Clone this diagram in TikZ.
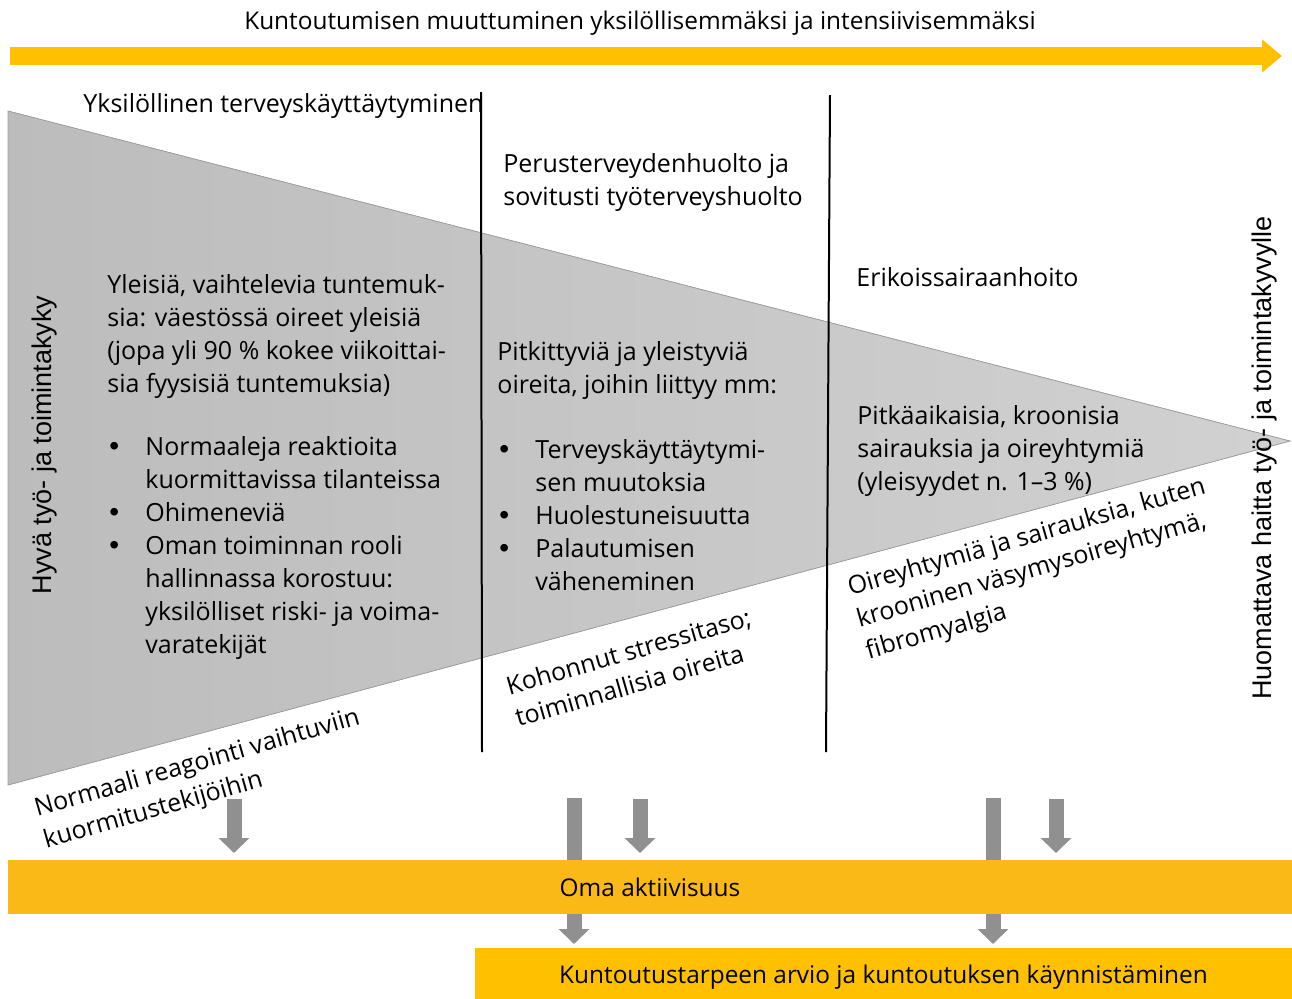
\documentclass[tikz,border=0pt]{standalone}
\usepackage{fontspec}
\setmainfont{Open Sans}
\newfontfamily\sidefont{Liberation Sans}
\usetikzlibrary{calc,arrows.meta}

\definecolor{baryellow}{HTML}{FFC000}
\definecolor{boxorange}{HTML}{FBB917}
\definecolor{conegray}{HTML}{C6C6C6}
\definecolor{coneedge}{HTML}{A0A0A0}
\definecolor{downgray}{HTML}{909090}

% bullet line and its continuation
\newcommand{\bitem}[1]{\makebox[19pt][l]{\hspace{1pt}{\sidefont\fontsize{14}{14}\selectfont\textbullet}}#1}
\newcommand{\bcont}{\hspace*{19pt}}

\begin{document}
\begin{tikzpicture}[x=0.5pt,y=-0.5pt,>=Latex,
	txt/.style={inner sep=0pt,align=left,font=\fontsize{12.5}{16.5}\selectfont},
	slant/.style={txt,rotate=16},
	side/.style={inner sep=0pt,rotate=90,font=\sidefont\fontsize{13.5}{15}\selectfont},
	downarrow/.style={draw=downgray,line width=7.5pt,-{Triangle[width=15pt,length=7.5pt]}},
	band/.style={inner sep=0pt,font=\fontsize{12.2}{14}\selectfont}]

	\useasboundingbox (0,0) rectangle (1292,998);

	% the arrow on the top
	\coordinate (T1) at (10,56);
	\coordinate (T2) at (1282,56);
	\draw[baryellow,line width=9pt,-{Triangle[width=16pt,length=10pt]}] (T1) -- (T2);
	\node[band] (title) at (640,23) {Kuntoutumisen muuttuminen yksilöllisemmäksi ja intensiivisemmäksi};

	% define the corners of the cone
	\coordinate (A) at (8,111);
	\coordinate (B) at (8,785);
	\coordinate (C) at (1290,441);
	\fill[left color=conegray!95!black,right color=conegray!80!white] (A) -- (C) -- (B) -- cycle;
	\draw[coneedge] (A) -- (C) -- (B) -- cycle;

	% the two dividing lines
	\coordinate (D) at (481,92);
	\coordinate (E) at (482,752);
	\coordinate (F) at (830,95);
	\coordinate (G) at (826,752);
	\draw[line width=1pt] (D)--(E) (F)--(G);

	% headers of the three phases
	\node[txt,anchor=base west] (head1) at (83,112) {Yksilöllinen terveyskäyttäytyminen};
	\node[txt,anchor=north west] (head2) at (503,153) {Perusterveydenhuolto ja\\ sovitusti työterveyshuolto};
	\node[txt,anchor=base west] (head3) at (856,286) {Erikoissairaanhoito};

	% the two ends
	\node[side] (good) at (45,445) {Hyvä työ- ja toimintakyky};
	\node[side] (bad) at (1265,458) {Huomattava haitta työ- ja toimintakyvylle};

	% texts inside the cone
	\node[txt,anchor=north west] (text1) at (107,274) {
		Yleisiä, vaihtelevia tuntemuk-\\
		sia: väestössä oireet yleisiä\\
		(jopa yli 90 \% kokee viikoittai-\\
		sia fyysisiä tuntemuksia)\\[15pt]
		\bitem{Normaaleja reaktioita}\\
		\bcont kuormittavissa tilanteissa\\
		\bitem{Ohimeneviä}\\
		\bitem{Oman toiminnan rooli}\\
		\bcont hallinnassa korostuu:\\
		\bcont yksilölliset riski- ja voima-\\
		\bcont varatekijät
	};
	\node[txt,anchor=north west] (text2) at (497,341) {
		Pitkittyviä ja yleistyviä\\
		oireita, joihin liittyy mm:\\[16pt]
		\bitem{Terveyskäyttäytymi-}\\
		\bcont sen muutoksia\\
		\bitem{Huolestuneisuutta}\\
		\bitem{Palautumisen}\\
		\bcont väheneminen
	};
	\node[txt,anchor=north west] (text3) at (857,405) {
		Pitkäaikaisia, kroonisia\\
		sairauksia ja oireyhtymiä\\
		(yleisyydet n. 1–3 \%)
	};

	% texts below the cone
	\node[slant] (low1) at (202,780) {Normaali reagointi vaihtuviin\\ kuormitustekijöihin};
	\node[slant] (low2) at (633,667) {Kohonnut stressitaso;\\ toiminnallisia oireita};
	\node[slant] (low3) at (1036,570) {Oireyhtymiä ja sairauksia, kuten\\ krooninen väsymysoireyhtymä,\\ fibromyalgia};

	% gray arrows down
	\coordinate (P1) at (234,799);
	\coordinate (Q1) at (234,853);
	\coordinate (P2) at (574,798);
	\coordinate (Q2) at (574,944);
	\coordinate (P3) at (640,799);
	\coordinate (Q3) at (640,853);
	\coordinate (P4) at (993,798);
	\coordinate (Q4) at (993,944);
	\coordinate (P5) at (1056,799);
	\coordinate (Q5) at (1056,853);
	\foreach \i in {1,...,5}
		\draw[downarrow] (P\i) -- (Q\i);

	% the boxes at the bottom
	\node[band,fill=boxorange,minimum width=642pt,minimum height=27pt] (own) at (650,887) {Oma aktiivisuus};
	\node[band,fill=baryellow,minimum width=408.5pt,minimum height=29pt] (rehab) at (883.5,977) {Kuntoutustarpeen arvio ja kuntoutuksen käynnistäminen};

\end{tikzpicture}
\end{document}
